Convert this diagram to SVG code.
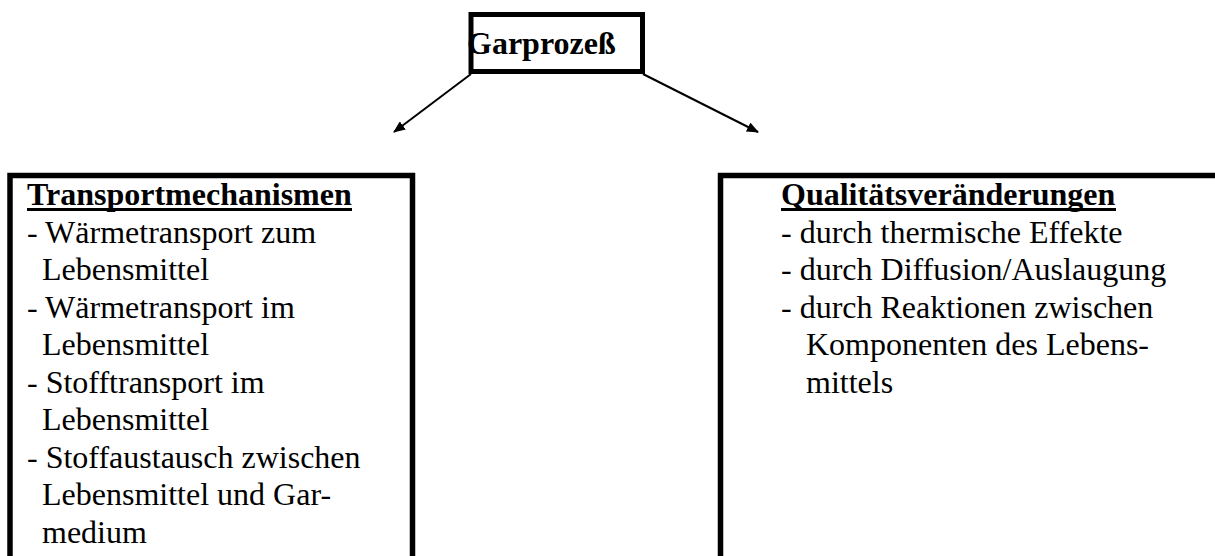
<svg xmlns="http://www.w3.org/2000/svg" width="1215" height="556" viewBox="0 0 1215 556">
  <style>
    .box { fill: #fff; stroke: #000; }
    .t { font-family: "Liberation Serif", "Times New Roman", serif; font-size: 32px; fill: #000; }
    .b { font-weight: bold; }
    .ul { stroke: #000; stroke-width: 3; }
    .conn { stroke: #000; stroke-width: 2; fill: none; marker-end: url(#arrow); }
  </style>
  <defs>
    <marker id="arrow" viewBox="0 0 12 10" refX="11" refY="5" markerWidth="12" markerHeight="10" markerUnits="userSpaceOnUse" orient="auto">
      <path d="M0,0 L12,5 L0,10 Z" fill="#000"/>
    </marker>
  </defs>
  <rect width="1215" height="556" fill="#fff"/>
  <g id="connectors">
    <line class="conn" x1="471" y1="74" x2="394" y2="132"/>
    <line class="conn" x1="643" y1="74" x2="758" y2="132"/>
  </g>
  <g id="garprozess">
    <rect class="box" x="471" y="14.5" width="171.5" height="57" stroke-width="5"/>
    <text class="t b" x="467" y="54">Garprozeß</text>
  </g>
  <g id="transportmechanismen">
    <rect class="box" x="10" y="175.5" width="402.5" height="420" stroke-width="5.5"/>
    <text class="t b" x="27" y="205">Transportmechanismen</text>
    <line class="ul" x1="27" y1="209.5" x2="352" y2="209.5"/>
    <text class="t" x="27" y="242.5">- Wärmetransport zum</text>
    <text class="t" x="42" y="280">Lebensmittel</text>
    <text class="t" x="27" y="317.5">- Wärmetransport im</text>
    <text class="t" x="42" y="355">Lebensmittel</text>
    <text class="t" x="27" y="392.5">- Stofftransport im</text>
    <text class="t" x="42" y="430">Lebensmittel</text>
    <text class="t" x="27" y="467.5">- Stoffaustausch zwischen</text>
    <text class="t" x="42" y="505">Lebensmittel und Gar-</text>
    <text class="t" x="42" y="542.5">medium</text>
  </g>
  <g id="qualitaetsveraenderungen">
    <rect class="box" x="720.5" y="175.5" width="600" height="420" stroke-width="5.5"/>
    <text class="t b" x="781" y="205">Qualitätsveränderungen</text>
    <line class="ul" x1="781" y1="209.5" x2="1116" y2="209.5"/>
    <text class="t" x="781" y="242.5">- durch thermische Effekte</text>
    <text class="t" x="781" y="280">- durch Diffusion/Auslaugung</text>
    <text class="t" x="781" y="317.5">- durch Reaktionen zwischen</text>
    <text class="t" x="806" y="355">Komponenten des Lebens-</text>
    <text class="t" x="806" y="392.5">mittels</text>
  </g>
</svg>
